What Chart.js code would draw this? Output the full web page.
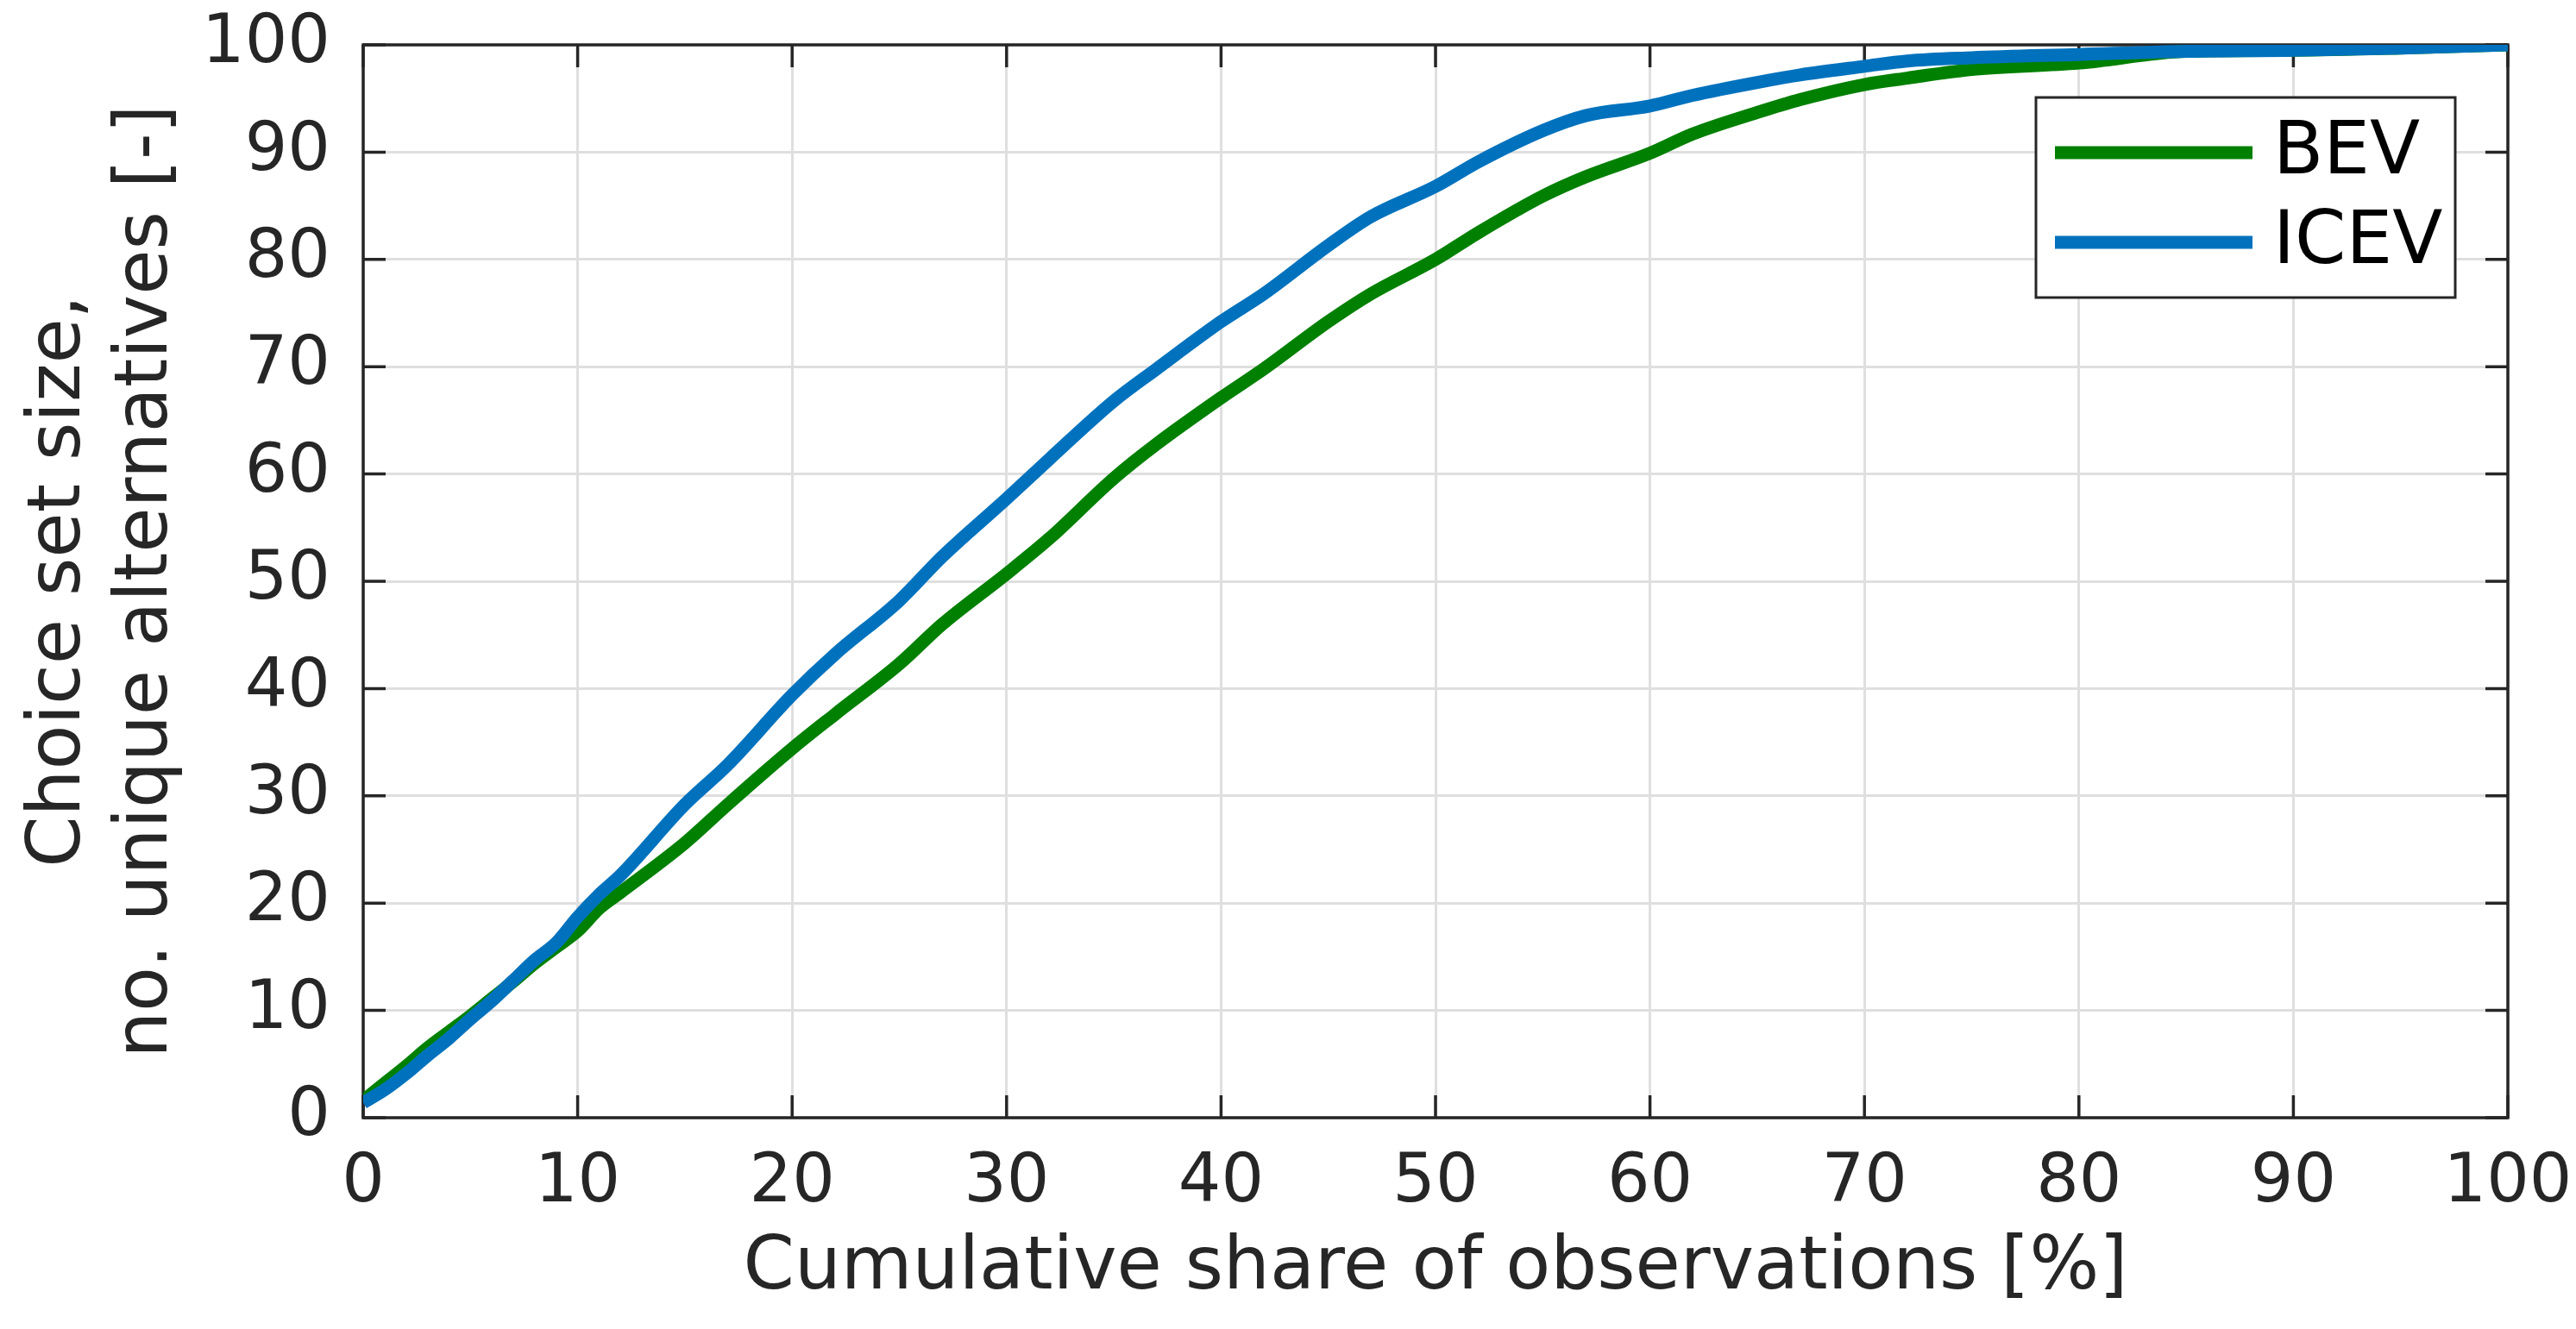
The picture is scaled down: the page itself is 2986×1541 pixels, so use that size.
<!DOCTYPE html>
<html>
<head>
<meta charset="utf-8">
<script src="https://cdn.jsdelivr.net/npm/chart.js@4.4.0/dist/chart.umd.min.js"></script>
<style>
  body { margin: 0; background: #fff; }
  #chart { display: block; }
</style>
</head>
<body>
<canvas id="chart" width="2986" height="1541"></canvas>
<script>
// cumulative share of observations [%]
var shareX = [0, 1, 2, 3, 4, 5, 6, 7, 8, 9, 10, 11, 12, 15, 17, 20, 22, 25, 27, 30, 32, 35, 37, 40, 42, 45, 47, 50, 52, 55, 57, 60, 62, 65, 67, 70, 72, 75, 80, 85, 90, 95, 100];
// choice set size, BEV
var bevSize = [1.6, 3.2, 4.8, 6.5, 8.0, 9.5, 11.1, 12.7, 14.4, 15.9, 17.4, 19.5, 21.0, 25.6, 29.2, 34.4, 37.6, 42.3, 46.0, 50.7, 54.0, 59.6, 62.8, 67.1, 69.8, 74.2, 76.8, 80.0, 82.5, 85.9, 87.7, 89.9, 91.7, 93.7, 94.9, 96.3, 96.9, 97.7, 98.3, 99.4, 99.5, 99.7, 100];
// choice set size, ICEV
var icevSize = [1.4, 2.6, 4.1, 5.8, 7.4, 9.2, 10.9, 12.8, 14.7, 16.3, 18.7, 20.8, 22.6, 29.2, 32.9, 39.4, 43.2, 48.2, 52.3, 57.7, 61.4, 66.8, 69.8, 74.2, 76.8, 81.3, 84.0, 86.8, 89.1, 92.0, 93.4, 94.3, 95.3, 96.5, 97.2, 98.0, 98.5, 98.8, 99.1, 99.4, 99.5, 99.7, 100];

var xTicks = [0, 10, 20, 30, 40, 50, 60, 70, 80, 90, 100];
var yTicks = [0, 10, 20, 30, 40, 50, 60, 70, 80, 90, 100];
var seriesNames = ['BEV', 'ICEV'];
var seriesColors = ['#008000', '#0072bd'];

var axisColor = '#262626';
var fontName = '"DejaVu Sans", sans-serif';

function toPoints(xs, ys) {
  var pts = [];
  for (var i = 0; i < xs.length; i++) {
    pts.push({ x: xs[i], y: ys[i] });
  }
  return pts;
}

// tick labels must not push the plot box in, the layout padding does that
function noLabelPadding(scale) {
  scale.paddingLeft = 0;
  scale.paddingRight = 0;
  scale.paddingTop = 0;
  scale.paddingBottom = 0;
}

// box round the plot, inward ticks, and the framed legend
var matlabAxes = {
  id: 'matlabAxes',
  beforeDatasetsDraw: function(chart) {
    var ctx = chart.ctx;
    var a = chart.chartArea;
    var xs = chart.scales.x;
    var ys = chart.scales.y;
    var len = 26;
    ctx.save();
    ctx.strokeStyle = axisColor;
    ctx.lineWidth = 3.5;
    ctx.beginPath();
    xs.ticks.forEach(function(t) {
      var px = xs.getPixelForValue(t.value);
      ctx.moveTo(px, a.bottom);
      ctx.lineTo(px, a.bottom - len);
      ctx.moveTo(px, a.top);
      ctx.lineTo(px, a.top + len);
    });
    ys.ticks.forEach(function(t) {
      var py = ys.getPixelForValue(t.value);
      ctx.moveTo(a.left, py);
      ctx.lineTo(a.left + len, py);
      ctx.moveTo(a.right, py);
      ctx.lineTo(a.right - len, py);
    });
    ctx.stroke();
    ctx.strokeRect(a.left, a.top, a.right - a.left, a.bottom - a.top);
    ctx.restore();
  },
  afterDraw: function(chart) {
    var ctx = chart.ctx;
    var a = chart.chartArea;
    var lx = a.right - 547;
    var ly = a.top + 61;
    var lw = 486;
    var lh = 232;
    ctx.save();
    ctx.fillStyle = '#ffffff';
    ctx.fillRect(lx, ly, lw, lh);
    ctx.strokeStyle = axisColor;
    ctx.lineWidth = 3;
    ctx.strokeRect(lx, ly, lw, lh);
    chart.data.datasets.forEach(function(ds, i) {
      var cy = ly + 64 + i * 104;
      ctx.strokeStyle = ds.borderColor;
      ctx.lineWidth = 15;
      ctx.beginPath();
      ctx.moveTo(lx + 22, cy);
      ctx.lineTo(lx + 251, cy);
      ctx.stroke();
      ctx.fillStyle = '#000000';
      ctx.font = '85px ' + fontName;
      ctx.textBaseline = 'middle';
      ctx.textAlign = 'left';
      ctx.fillText(ds.label, lx + 275, cy + 2);
    });
    ctx.restore();
  }
};

var ctx = document.getElementById('chart').getContext('2d');

var myChart = new Chart(ctx, {
  type: 'line',
  data: {
    datasets: [{
      label: seriesNames[0],
      data: toPoints(shareX, bevSize),
      borderColor: seriesColors[0],
      backgroundColor: seriesColors[0],
      borderWidth: 15,
      pointRadius: 0,
      cubicInterpolationMode: 'monotone',
      order: 1
    }, {
      label: seriesNames[1],
      data: toPoints(shareX, icevSize),
      borderColor: seriesColors[1],
      backgroundColor: seriesColors[1],
      borderWidth: 15,
      pointRadius: 0,
      cubicInterpolationMode: 'monotone',
      order: 0
    }]
  },
  options: {
    responsive: false,
    animation: false,
    events: [],
    layout: { padding: { top: 52, right: 79, left: 0, bottom: 0 } },
    plugins: {
      legend: { display: false },
      tooltip: { enabled: false }
    },
    scales: {
      x: {
        type: 'linear',
        min: 0,
        max: 100,
        afterBuildTicks: function(scale) {
          scale.ticks = xTicks.map(function(v) { return { value: v }; });
        },
        afterFit: function(scale) {
          scale.height = 245;
          noLabelPadding(scale);
        },
        grid: { color: '#dfdfdf', lineWidth: 3, drawTicks: false },
        border: { display: false },
        ticks: {
          color: axisColor,
          padding: 30,
          maxRotation: 0,
          font: { family: fontName, size: 78 }
        },
        title: {
          display: true,
          text: 'Cumulative share of observations [%]',
          color: axisColor,
          font: { family: fontName, size: 85, lineHeight: 1.1 },
          padding: { top: 0, bottom: 22 }
        }
      },
      y: {
        type: 'linear',
        min: 0,
        max: 100,
        afterBuildTicks: function(scale) {
          scale.ticks = yTicks.map(function(v) { return { value: v }; });
        },
        afterFit: function(scale) {
          scale.width = 421;
          noLabelPadding(scale);
        },
        grid: { color: '#dfdfdf', lineWidth: 3, drawTicks: false },
        border: { display: false },
        ticks: {
          color: axisColor,
          padding: 38,
          font: { family: fontName, size: 78 }
        },
        title: {
          display: true,
          text: ['Choice set size,', 'no. unique alternatives [-]'],
          color: axisColor,
          font: { family: fontName, size: 85, lineHeight: 1.18 },
          padding: { top: 20, bottom: 0 }
        }
      }
    }
  },
  plugins: [matlabAxes]
});
</script>
</body>
</html>
